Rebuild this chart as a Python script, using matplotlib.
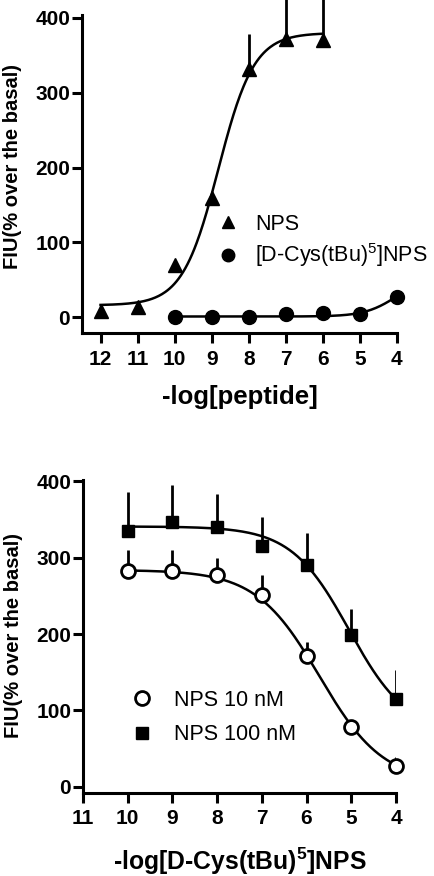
#Importing libraries
import numpy as np
import matplotlib.pyplot as plt
from matplotlib.lines import Line2D

plt.rcParams['font.family'] = ['Liberation Sans', 'DejaVu Sans']
plt.rcParams['mathtext.fontset'] = 'custom'
plt.rcParams['mathtext.rm'] = 'Liberation Sans'
plt.rcParams['mathtext.bf'] = 'Liberation Sans:bold'
plt.rcParams['mathtext.default'] = 'rm'

#Top panel data: -log[peptide]
top_x_nps = [12, 11, 10, 9, 8, 7, 6]
top_nps = [8, 14, 70, 160, 332, 372, 370]
top_nps_err = [0, 0, 0, 0, 47, 62, 62]
top_x_dcys = [10, 9, 8, 7, 6, 5, 4]
top_dcys = [0, 0, 1, 5, 6, 5, 27]

#Fitted sigmoid parameters (bottom, top, logEC50, hill)
fit_nps = (16, 380, -8.82, 0.9)
fit_dcys = (1, 55, -4.0, 1.0)

#Bottom panel data: -log[D-Cys(tBu)5]NPS
bot_x = [10, 9, 8, 7, 6, 5, 4]
nps10 = [282, 282, 278, 251, 171, 78, 27]
nps10_err = [28, 28, 22, 27, 19, 0, 12]
nps100 = [335, 347, 340, 315, 290, 199, 115]
nps100_err = [51, 49, 44, 39, 42, 34, 38]

fit_nps10 = (5, 284, -5.71, 0.61)
fit_nps100 = (70, 341, -5.05, 0.67)


def agonist(x, p):
    b, t, ec, h = p
    return b + (t - b) / (1 + 10 ** ((ec + x) * h))


def antagonist(x, p):
    b, t, ic, h = p
    return b + (t - b) / (1 + 10 ** ((-x - ic) * h))


def style_axes(ax, xticks):
    for s in ['top', 'right']:
        ax.spines[s].set_visible(False)
    for s in ['left', 'bottom']:
        ax.spines[s].set_linewidth(2.2)
    ax.tick_params(width=2.2, length=7, labelsize=15)
    ax.tick_params(axis='x', pad=5)
    ax.tick_params(axis='y', pad=1.5)
    ax.set_xticks(xticks)
    ax.set_yticks([0, 100, 200, 300, 400])
    for lab in ax.get_xticklabels() + ax.get_yticklabels():
        lab.set_fontweight('bold')
    ax.set_ylabel('FIU(% over the basal)', fontsize=14.5, fontweight='bold')


fig = plt.figure(figsize=(4.35, 8.76), dpi=100)

#Top panel
ax1 = fig.add_axes([0.1885, 0.6199, 0.724, 0.363])
xs = np.linspace(12, 6, 200)
ax1.plot(xs, agonist(xs, fit_nps), color='black', lw=1.8)
xs = np.linspace(10, 4, 200)
ax1.plot(xs, agonist(xs, fit_dcys), color='black', lw=1.8)
ax1.errorbar(top_x_nps, top_nps, yerr=[np.zeros(len(top_nps_err)), top_nps_err],
             fmt='none', ecolor='black', elinewidth=2, capsize=0, clip_on=False)
ax1.plot(top_x_nps, top_nps, '^', color='black', markersize=10, clip_on=False)
ax1.plot(top_x_dcys, top_dcys, 'o', color='black', markersize=10, clip_on=False)
ax1.set_xlim(12.5, 4)
ax1.set_ylim(-21, 404)
style_axes(ax1, [12, 11, 10, 9, 8, 7, 6, 5, 4])
ax1.set_xlabel('-log[peptide]', fontsize=18.5, fontweight='bold')
ax1.xaxis.set_label_coords(0.5, -0.165)
ax1.yaxis.set_label_coords(-0.19, 0.525)
h1 = [Line2D([], [], marker='^', color='black', ls='none', markersize=9),
      Line2D([], [], marker='o', color='black', ls='none', markersize=9)]
ax1.legend(h1, ['NPS', '[D-Cys(tBu)$^{5}$]NPS'], frameon=False, fontsize=15.5,
           loc='center left', bbox_to_anchor=(0.368, 0.287), handlelength=1.0,
           handletextpad=0.76, labelspacing=0.3, numpoints=1)

#Bottom panel
ax2 = fig.add_axes([0.1908, 0.0951, 0.7195, 0.357])
xs = np.linspace(10, 4, 200)
ax2.plot(xs, antagonist(xs, fit_nps100), color='black', lw=1.8)
ax2.plot(xs, antagonist(xs, fit_nps10), color='black', lw=1.8)
ax2.errorbar(bot_x, nps100, yerr=[np.zeros(len(nps100_err)), nps100_err],
             fmt='none', ecolor='black', elinewidth=2, capsize=0)
ax2.errorbar(bot_x, nps10, yerr=[np.zeros(len(nps10_err)), nps10_err],
             fmt='none', ecolor='black', elinewidth=2, capsize=0)
ax2.plot(bot_x, nps100, 's', color='black', markersize=9, clip_on=False)
ax2.plot(bot_x, nps10, 'o', markerfacecolor='white', markeredgecolor='black',
         markeredgewidth=2, markersize=10, clip_on=False)
ax2.set_xlim(11, 4)
ax2.set_ylim(-8, 402)
style_axes(ax2, [11, 10, 9, 8, 7, 6, 5, 4])
ax2.set_xlabel(r'-log[D-Cys(tBu)$\mathbf{^{5}}$]NPS', fontsize=17.8, fontweight='bold')
ax2.xaxis.set_label_coords(0.5, -0.168)
ax2.yaxis.set_label_coords(-0.193, 0.504)
h2 = [Line2D([], [], marker='o', markerfacecolor='white', markeredgecolor='black',
             markeredgewidth=2, ls='none', markersize=10),
      Line2D([], [], marker='s', color='black', ls='none', markersize=9)]
ax2.legend(h2, ['NPS 10 nM', 'NPS 100 nM'], frameon=False, fontsize=15.5,
           loc='center left', bbox_to_anchor=(0.093, 0.24), handlelength=1.0,
           handletextpad=0.99, labelspacing=0.63, numpoints=1)

fig.savefig('out.png', dpi=100)
